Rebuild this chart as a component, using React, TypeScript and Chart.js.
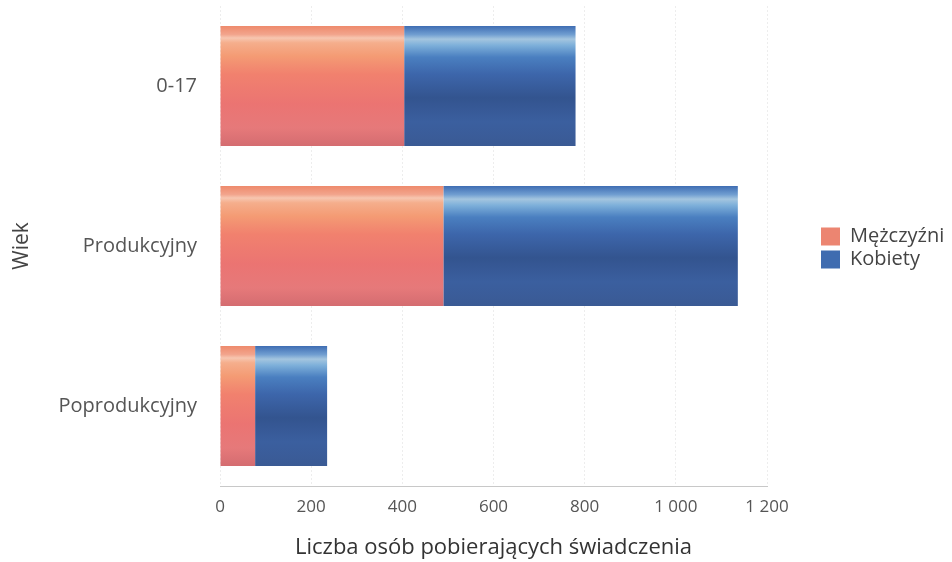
import React, { useEffect, useRef } from "react";
import { Chart, registerables } from "chart.js";

Chart.register(...registerables);

const categories = ["0-17", "Produkcyjny", "Poprodukcyjny"];
const men = [404, 490, 77];
const women = [376, 646, 158];
const xTicks = [0, 200, 400, 600, 800, 1000, 1200];
const seriesNames = ["Mężczyźni", "Kobiety"];

const FONT = "'Open Sans', 'Noto Sans', sans-serif";
const TARGET_RIGHT = 767;
const LEGEND_BOX_X = 821;

const pinkStops: [number, string][] = [
  [0, "#ee8a6c"],
  [0.07, "#f2a48c"],
  [0.1, "#f7c6b0"],
  [0.14, "#f5ae8c"],
  [0.25, "#f49b74"],
  [0.4, "#f1816e"],
  [0.65, "#eb7472"],
  [0.85, "#e6797a"],
  [1, "#d46c70"],
];
const blueStops: [number, string][] = [
  [0, "#3f6db3"],
  [0.07, "#6f9dd0"],
  [0.11, "#a4c5df"],
  [0.16, "#7eb0da"],
  [0.26, "#4a7fc0"],
  [0.4, "#3d66ab"],
  [0.6, "#33548f"],
  [0.8, "#3b5f9f"],
  [1, "#3a5a94"],
];

function makeGradient(ctx: any, stops: [number, string][]) {
  const chart = ctx.chart;
  const y = chart.scales?.y;
  const area = chart.chartArea;
  if (!y || !area || ctx.dataIndex === undefined) return stops[4][1];
  const center = y.getPixelForValue(ctx.dataIndex);
  const h = ((area.bottom - area.top) / categories.length) * 0.75;
  const g = chart.ctx.createLinearGradient(0, center - h / 2, 0, center + h / 2);
  stops.forEach(([o, c]) => g.addColorStop(o, c));
  return g;
}

const legendShift = {
  id: "legendShift",
  afterLayout(chart: any) {
    const lg = chart.legend;
    if (!lg) return;
    const pad = 3;
    const w = lg.right - lg.left;
    lg.left = LEGEND_BOX_X - pad;
    lg.right = lg.left + w;
    lg.top += 2;
    lg.bottom += 2;
  },
};

export default function App() {
  const ref = useRef<HTMLCanvasElement | null>(null);
  useEffect(() => {
    if (!ref.current) return;
    const chart: any = new Chart(ref.current, {
      type: "bar",
      data: {
        labels: categories,
        datasets: [
          {
            label: seriesNames[0],
            data: men,
            backgroundColor: (c: any) => makeGradient(c, pinkStops),
            borderWidth: 0,
          },
          {
            label: seriesNames[1],
            data: women,
            backgroundColor: (c: any) => makeGradient(c, blueStops),
            borderWidth: 0,
          },
        ],
      },
      plugins: [legendShift],
      options: {
        indexAxis: "y",
        responsive: false,
        animation: false,
        datasets: { bar: { categoryPercentage: 1, barPercentage: 0.75 } },
        layout: { padding: { top: 6, right: 40, left: 0, bottom: 0 } },
        plugins: {
          tooltip: { enabled: false },
          legend: {
            position: "right",
            align: "center",
            fullSize: false,
            labels: {
              boxWidth: 19,
              boxHeight: 18,
              padding: 3,
              color: "#444",
              font: { family: FONT, size: 20 },
              generateLabels: () =>
                seriesNames.map((n, i) => ({
                  text: n,
                  fillStyle: i === 0 ? "#ec8571" : "#3f6cb0",
                  strokeStyle: "rgba(0,0,0,0)",
                  lineWidth: 0,
                  fontColor: "#444",
                  datasetIndex: i,
                  hidden: false,
                })),
            },
          },
        },
        scales: {
          x: {
            stacked: true,
            min: 0,
            max: 1200,
            afterBuildTicks: (s: any) => {
              s.ticks = xTicks.map((v) => ({ value: v }));
            },
            afterFit: (s: any) => {
              s.height = 76;
              s.paddingLeft = 0;
              s.paddingRight = 0;
            },
            grid: {
              color: "rgba(0,0,0,0.07)",
              drawTicks: false,
            },
            border: { display: true, color: "#c8c8c8", dash: [2, 2] },
            ticks: {
              padding: 11,
              color: "#555",
              font: { family: FONT, size: 17 },
              callback: (v: any) => {
                const n = Number(v);
                return n >= 1000 ? Math.floor(n / 1000) + " " + String(n % 1000).padStart(3, "0") : String(n);
              },
            },
            title: {
              display: true,
              text: "Liczba osób pobierających świadczenia",
              color: "#333",
              font: { family: FONT, size: 22 },
              padding: { top: 4, bottom: 1 },
            },
          },
          y: {
            stacked: true,
            afterFit: (s: any) => {
              s.width = 220;
              s.paddingTop = 0;
              s.paddingBottom = 0;
            },
            grid: { display: false, drawTicks: false },
            border: { display: false },
            ticks: {
              padding: 23,
              color: "#555",
              font: { family: FONT, size: 20 },
            },
            title: {
              display: true,
              text: "Wiek",
              color: "#444",
              font: { family: FONT, size: 21 },
              padding: { top: 9, bottom: 0 },
            },
          },
        },
      },
    });
    const delta = TARGET_RIGHT - chart.chartArea.right;
    if (Math.abs(delta) > 0.5) {
      chart.options.layout.padding.right = Math.max(0, 40 - delta);
      chart.update();
    }
    return () => chart.destroy();
  }, []);
  return (
    <div style={{ position: "absolute", left: 0, top: 0, width: 952, height: 562, background: "#fff" }}>
      <canvas ref={ref} width={952} height={562} />
    </div>
  );
}
